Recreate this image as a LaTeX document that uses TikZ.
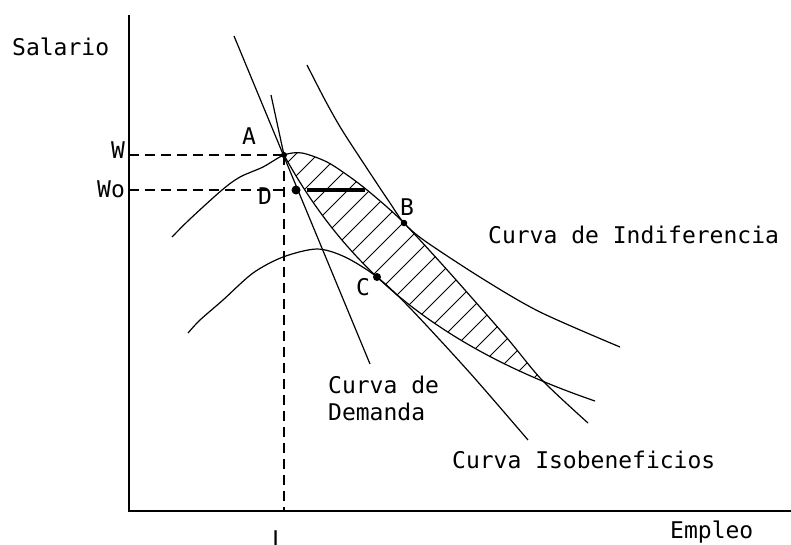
\documentclass[tikz,border=0pt]{standalone}
\usepackage{fontspec}
\newfontfamily\labfont{DejaVu Sans Mono}
\begin{document}
\begin{tikzpicture}[x=1pt,y=-1pt,
  axisline/.style={line width=1.8pt},
  curve/.style={line width=1.2pt, line join=round},
  guide/.style={line width=1.5pt, dash pattern=on 10pt off 6pt},
  hatchline/.style={line width=0.9pt},
  lab/.style={font=\labfont\fontsize{23}{27}\selectfont, inner sep=0pt},
  dot/.style={circle, fill=black, inner sep=0pt, minimum size=#1},
  dot/.default=6pt]
\useasboundingbox (0,0) rectangle (791,544);
\fill[white] (0,0) rectangle (791,544);

% key points
\coordinate (O) at (129,511);
\coordinate (Ytop) at (129,15);
\coordinate (Xend) at (791,511);
\coordinate (A) at (284,155);
\coordinate (D) at (296,190);
\coordinate (B) at (404,223);
\coordinate (C) at (377,277);
\coordinate (Wax) at (129,155);
\coordinate (Woax) at (129,190);
\coordinate (Lax) at (284,511);
\coordinate (Dv) at (284,190);
\coordinate (T1) at (307,190);
\coordinate (T2) at (365,190);
\coordinate (DemTop) at (234,36);
\coordinate (DemBot) at (370,364);
\coordinate (ICAtop) at (271,95);

% hatched lens between isoprofit through A and indifference curve through A
\begin{scope}
  \clip plot[smooth] coordinates {(172,237) (190,219) (222,190) (240,177) (263,167) (284,155) (302,153) (327,162) (350,177) (367,190) (387,207) (404,223) (430,251) (457,281) (507,338) (542,380) (588,423)} -- (588,600) -- (172,600) -- cycle;
  \clip (ICAtop) -- (A) -- plot[domain=284:595,samples=80] (\x,{589.3-1033.82/((\x-45.95)/100)}) -- (800,401) -- (800,0) -- (271,0) -- cycle;
  \foreach \c in {450,472,...,920}
    \draw[hatchline] (\c-140,140) -- (\c-390,390);
\end{scope}

% axes
\draw[axisline] (Ytop) -- (O) -- (Xend);

% guides
\draw[guide] (Wax) -- (A);
\draw[guide] (Woax) -- (Dv);
\draw[guide] (A) -- (Lax);

% demand curve
\draw[curve] (DemTop) -- (DemBot);
% isoprofit through A
\draw[curve] plot[smooth] coordinates {(172,237) (190,219) (222,190) (240,177) (263,167) (284,155) (302,153) (327,162) (350,177) (367,190) (387,207) (404,223) (430,251) (457,281) (507,338) (542,380) (588,423)};
% lower isoprofit through C
\draw[curve] plot[smooth] coordinates {(188,333) (200,320) (223,300) (253,273) (283,257) (317,249) (345,257) (377,277) (410,308) (470,373) (528,440)};
% indifference curve through A
\draw[curve] (ICAtop) -- (A) -- plot[domain=284:595,samples=80] (\x,{589.3-1033.82/((\x-45.95)/100)});
% indifference curve through B
\draw[curve] plot[smooth] coordinates {(307,65) (325,100) (342,130) (370,173) (390,203) (404,223) (425,241) (483,279) (540,312) (620,347)};

% thick segment
\draw[line width=4pt] (T1) -- (T2);

% points
\node[dot=6pt] (pA) at (A) {};
\node[dot=9pt] (pD) at (D) {};
\node[dot=6.5pt] (pB) at (B) {};
\node[dot=8pt] (pC) at (C) {};

% labels
\node[lab, anchor=base west] (lSal) at (12,55) {Salario};
\node[lab, anchor=base] (lW) at (118,158) {W};
\node[lab, anchor=base] (lWo) at (111,197) {Wo};
\node[lab, anchor=base] (lA) at (249,144) {A};
\node[lab, anchor=base] (lD) at (265,204) {D};
\node[lab, anchor=base] (lB) at (407,215) {B};
\node[lab, anchor=base] (lC) at (363,295) {C};
\node[lab, anchor=base west] (lInd) at (488,243) {Curva de Indiferencia};
\node[lab, anchor=base west] (lDem1) at (328,393) {Curva de};
\node[lab, anchor=base west] (lDem2) at (328,420) {Demanda};
\node[lab, anchor=base west] (lIso) at (452,468) {Curva Isobeneficios};
\node[lab, anchor=base west] (lEmp) at (670,538) {Empleo};
\node[lab, anchor=base] (lL) at (279,547) {L};
\end{tikzpicture}
\end{document}
